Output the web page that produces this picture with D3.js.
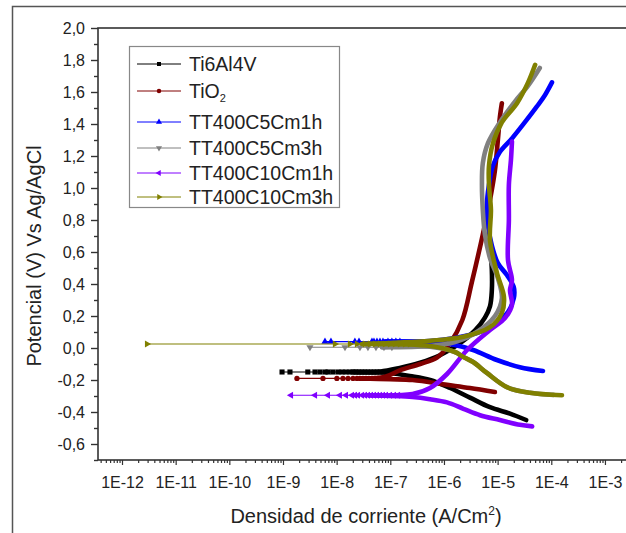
<!DOCTYPE html>
<html>
<head>
<meta charset="utf-8">
<script src="https://cdn.jsdelivr.net/npm/d3@7"></script>
<style>
  body { margin: 0; background: #fff; }
  svg { display: block; }
  text { font-family: "Liberation Sans", Arial, Helvetica, sans-serif; fill: #222; }
</style>
</head>
<body>
<svg id="chart" width="626" height="533"></svg>
<script>
// Potentiodynamic polarization curves: [current density (A/cm2), potential (V vs Ag/AgCl)]
// Each branch starts at the corrosion potential and runs outward.

const seriesNames = ["Ti6Al4V", "TiO2", "TT400C5Cm1h", "TT400C5Cm3h", "TT400C10Cm1h", "TT400C10Cm3h"];
const seriesColors = ["#000000", "#800000", "#0000ff", "#808080", "#8000ff", "#808000"];

// Ti6Al4V
const ti64Cath = [[2.0e-8,-0.150],[6.4e-8,-0.152],[9.9e-8,-0.156],[2.3e-7,-0.175],[5.5e-7,-0.200],[1.3e-6,-0.250],[3.05e-6,-0.310],[7.2e-6,-0.370],[1.7e-5,-0.410],[3.4e-5,-0.450]];
const ti64Anod = [[2.0e-8,-0.150],[6.4e-8,-0.148],[1.5e-7,-0.125],[3.6e-7,-0.092],[8.4e-7,-0.045],[2.0e-6,0.030],[3.8e-6,0.110],[5.8e-6,0.190],[7.2e-6,0.260],[7.8e-6,0.360],[7.8e-6,0.490],[7.5e-6,0.580]];
const ti64EcorrI = [9.6e-10,1.35e-9,2.9e-9,3.95e-9,4.9e-9,6.1e-9,6.9e-9,8.5e-9,1.06e-8,1.26e-8,1.49e-8,1.77e-8,2.02e-8,2.29e-8,2.61e-8,2.97e-8,3.37e-8,3.83e-8,4.36e-8,4.96e-8,5.64e-8,6.42e-8];
const ti64Ecorr = -0.150;

// TiO2
const tio2Cath = [[3.0e-8,-0.190],[9.9e-8,-0.195],[2.6e-7,-0.200],[1.14e-6,-0.230],[3.05e-6,-0.250],[8.9e-6,-0.275]];
const tio2Anod = [[3.0e-8,-0.190],[8.0e-8,-0.180],[1.5e-7,-0.140],[3.6e-7,-0.100],[7.4e-7,-0.060],[1.3e-6,0.030],[2.2e-6,0.175],[3.3e-6,0.410],[5.3e-6,0.710],[7.2e-6,0.925],[8.9e-6,1.110],[1.01e-5,1.300],[1.1e-5,1.440],[1.2e-5,1.530]];
const tio2EcorrI = [1.82e-9,5.56e-9,1.01e-8,1.31e-8,1.63e-8,2.02e-8,2.39e-8,2.72e-8,3.09e-8,3.52e-8,4.0e-8,4.55e-8,5.18e-8,5.89e-8,6.7e-8,7.62e-8];
const tio2Ecorr = -0.190;

// TT400C5Cm1h
const c5h1Cath = [[8.0e-8,0.040],[5.5e-7,0.0375],[1.6e-6,0.019],[3.5e-6,-0.0125],[9.7e-6,-0.075],[2.6e-5,-0.120],[7.0e-5,-0.144]];
const c5h1Anod = [[8.0e-8,0.040],[5.5e-7,0.044],[1.6e-6,0.0625],[4.1e-6,0.094],[9.7e-6,0.156],[1.56e-5,0.225],[2.0e-5,0.310],[2.0e-5,0.380],[1.49e-5,0.456],[1.01e-5,0.530],[7.8e-6,0.640],[6.6e-6,0.770],[6.3e-6,0.890],[6.9e-6,1.020],[8.2e-6,1.140],[1.1e-5,1.225],[1.85e-5,1.310],[3.2e-5,1.410],[5.4e-5,1.510],[7.6e-5,1.580],[1.03e-4,1.660]];
const c5h1EcorrI = [6.06e-9,7.83e-9,2.19e-8,2.61e-8,4.55e-8,4.96e-8,5.64e-8,6.42e-8,7.3e-8,9.04e-8,1.07e-7,1.27e-7,1.51e-7];
const c5h1Ecorr = 0.040;

// TT400C5Cm3h
const c5h3Cath = [[7.0e-8,0.005],[5.5e-7,0.008],[1.6e-6,-0.025],[2.3e-6,-0.056],[3.5e-6,-0.0875],[6.3e-6,-0.156],[1.49e-5,-0.245],[4.0e-5,-0.280],[1.1e-4,-0.293]];
const c5h3Anod = [[7.0e-8,0.005],[5.5e-7,0.0125],[1.6e-6,0.0375],[4.1e-6,0.100],[8.9e-6,0.200],[1.2e-5,0.310],[1.01e-5,0.4375],[7.2e-6,0.5625],[5.8e-6,0.710],[5.3e-6,0.8625],[5.1e-6,1.020],[5.3e-6,1.156],[6.6e-6,1.280],[1.1e-5,1.410],[2.1e-5,1.540],[3.7e-5,1.640],[6.1e-5,1.750]];
const c5h3EcorrI = [3.18e-9,1.43e-8,2.72e-8,3.83e-8,5.4e-8,7.62e-8,1.07e-7];
const c5h3Ecorr = 0.005;

// TT400C10Cm1h
const c10h1Cath = [[4.0e-8,-0.295],[2.6e-7,-0.306],[5.5e-7,-0.320],[1.14e-6,-0.340],[2.3e-6,-0.380],[4.7e-6,-0.420],[1.1e-5,-0.450],[2.6e-5,-0.480],[4.4e-5,-0.490]];
const c10h1Anod = [[4.0e-8,-0.295],[2.6e-7,-0.2875],[5.5e-7,-0.250],[1.14e-6,-0.1625],[2.7e-6,-0.0125],[7.2e-6,0.1125],[1.37e-5,0.1875],[1.85e-5,0.270],[1.7e-5,0.360],[1.85e-5,0.425],[1.56e-5,0.550],[1.62e-5,0.800],[1.62e-5,1.020],[1.77e-5,1.175],[1.85e-5,1.290]];
const c10h1EcorrI = [1.41e-9,3.95e-9,6.89e-9,1.15e-8,1.49e-8,1.93e-8,2.19e-8,2.5e-8,2.97e-8,3.37e-8,3.83e-8,4.36e-8,4.96e-8,5.64e-8,6.42e-8,7.3e-8,8.3e-8,9.86e-8,1.17e-7,1.39e-7];
const c10h1Ecorr = -0.295;

// TT400C10Cm3h
const c10h3Cath = [[3.0e-8,0.025],[5.5e-7,0.0125],[1.6e-6,-0.025],[2.3e-6,-0.056],[3.5e-6,-0.0875],[6.3e-6,-0.156],[1.49e-5,-0.245],[4.0e-5,-0.280],[1.58e-4,-0.295]];
const c10h3Anod = [[3.0e-8,0.025],[5.5e-7,0.045],[2.3e-6,0.070],[7.2e-6,0.130],[1.2e-5,0.220],[1.31e-5,0.320],[9.7e-6,0.470],[7.2e-6,0.675],[7.5e-6,0.8625],[6.9e-6,1.020],[6.9e-6,1.140],[8.2e-6,1.280],[1.2e-5,1.410],[2.3e-5,1.530],[3.7e-5,1.660],[5.0e-5,1.770]];
const c10h3EcorrI = [2.92e-12,9.3e-9,1.77e-8,2.39e-8,3.37e-8,4.18e-8,5.18e-8,6.42e-8,7.95e-8,9.86e-8,1.22e-7,1.51e-7,1.88e-7,2.32e-7];
const c10h3Ecorr = 0.025;

// Axis ticks
const xMajorTicks = [1e-12,1e-11,1e-10,1e-9,1e-8,1e-7,1e-6,1e-5,1e-4,1e-3];
const xTickLabels = ["1E-12","1E-11","1E-10","1E-9","1E-8","1E-7","1E-6","1E-5","1E-4","1E-3"];
const yMajorTicks = [-0.6,-0.4,-0.2,0.0,0.2,0.4,0.6,0.8,1.0,1.2,1.4,1.6,1.8,2.0];
const yTickLabels = ["-0,6","-0,4","-0,2","0,0","0,2","0,4","0,6","0,8","1,0","1,2","1,4","1,6","1,8","2,0"];
const yMinorTicks = [-0.7,-0.5,-0.3,-0.1,0.1,0.3,0.5,0.7,0.9,1.1,1.3,1.5,1.7,1.9];

const series = [
  { cath: ti64Cath,  anod: ti64Anod,  ecorrI: ti64EcorrI,  ecorr: ti64Ecorr },
  { cath: tio2Cath,  anod: tio2Anod,  ecorrI: tio2EcorrI,  ecorr: tio2Ecorr },
  { cath: c5h1Cath,  anod: c5h1Anod,  ecorrI: c5h1EcorrI,  ecorr: c5h1Ecorr },
  { cath: c5h3Cath,  anod: c5h3Anod,  ecorrI: c5h3EcorrI,  ecorr: c5h3Ecorr },
  { cath: c10h1Cath, anod: c10h1Anod, ecorrI: c10h1EcorrI, ecorr: c10h1Ecorr },
  { cath: c10h3Cath, anod: c10h3Anod, ecorrI: c10h3EcorrI, ecorr: c10h3Ecorr }
].map((s, k) => ({ ...s, name: seriesNames[k], color: seriesColors[k] }));

// Marker shapes: square, circle, up, down, left, right triangles
const symbolTypes = [d3.symbolSquare, d3.symbolCircle, d3.symbolTriangle, d3.symbolTriangle, d3.symbolTriangle, d3.symbolTriangle];
const symbolRotation = [0, 0, 0, 180, -90, 90];
const symbolSizes = [26, 22, 22, 22, 22, 22];

const svg = d3.select("#chart");
const plot = { left: 98, top: 28, right: 640, bottom: 460 };

const x = d3.scaleLog().domain([3.57e-13, 4.5e-3]).range([plot.left, plot.right]);
const y = d3.scaleLinear().domain([-0.7, 2.0]).range([plot.bottom, plot.top]);

// Outer frame
svg.append("rect")
  .attr("x", 12.5).attr("y", 6.5).attr("width", 640).attr("height", 560)
  .attr("fill", "none").attr("stroke", "#555").attr("stroke-width", 1.5);

// Plot box
svg.append("rect")
  .attr("x", plot.left).attr("y", plot.top)
  .attr("width", plot.right - plot.left).attr("height", plot.bottom - plot.top)
  .attr("fill", "none").attr("stroke", "#333").attr("stroke-width", 1.6);

svg.append("defs").append("clipPath").attr("id", "plotClip")
  .append("rect").attr("x", plot.left).attr("y", plot.top)
  .attr("width", plot.right - plot.left).attr("height", plot.bottom - plot.top);

// X axis: decade majors with labels, 2..9 minors
const xMinorTicks = [];
for (let e = -13; e <= -3; e++) {
  for (let m = 2; m <= 9; m++) {
    const v = m * Math.pow(10, e);
    if (v > x.domain()[0] && v < x.domain()[1]) xMinorTicks.push(v);
  }
}

const xAxisMinor = svg.append("g").attr("transform", `translate(0,${plot.bottom})`)
  .call(d3.axisBottom(x).tickValues(xMinorTicks).tickSize(3).tickFormat(""));
const xAxisMajor = svg.append("g").attr("transform", `translate(0,${plot.bottom})`)
  .call(d3.axisBottom(x).tickValues(xMajorTicks).tickSize(5).tickPadding(12)
    .tickFormat((d, i) => xTickLabels[i]));

[xAxisMinor, xAxisMajor].forEach(g => {
  g.select(".domain").remove();
  g.selectAll(".tick line").attr("stroke", "#333").attr("stroke-width", 1.2);
});
xAxisMajor.selectAll(".tick text")
  .attr("font-size", 16).attr("fill", "#222")
  .style("font-family", '"Liberation Sans", Arial, sans-serif');

// Y axis
const yAxisMinor = svg.append("g").attr("transform", `translate(${plot.left},0)`)
  .call(d3.axisLeft(y).tickValues(yMinorTicks).tickSize(4).tickFormat(""));
const yAxisMajor = svg.append("g").attr("transform", `translate(${plot.left},0)`)
  .call(d3.axisLeft(y).tickValues(yMajorTicks).tickSize(7).tickPadding(6)
    .tickFormat((d, i) => yTickLabels[i]));

[yAxisMinor, yAxisMajor].forEach(g => {
  g.select(".domain").remove();
  g.selectAll(".tick line").attr("stroke", "#333").attr("stroke-width", 1.4);
});
yAxisMajor.selectAll(".tick text")
  .attr("font-size", 16).attr("fill", "#222")
  .style("font-family", '"Liberation Sans", Arial, sans-serif');

// Axis titles
svg.append("text")
  .attr("transform", "translate(34,256) rotate(-90)")
  .attr("text-anchor", "middle").attr("dominant-baseline", "central")
  .attr("font-size", 20)
  .text("Potencial (V) Vs Ag/AgCl");

const xTitle = svg.append("text")
  .attr("x", 366).attr("y", 523)
  .attr("text-anchor", "middle").attr("font-size", 20);
xTitle.append("tspan").text("Densidad de corriente (A/Cm");
xTitle.append("tspan").attr("font-size", 12).attr("dy", -8).text("2");
xTitle.append("tspan").attr("dy", 8).text(")");

// Curves
const dataLayer = svg.append("g").attr("clip-path", "url(#plotClip)");
const branchLine = d3.line()
  .x(d => x(d[0])).y(d => y(d[1]))
  .curve(d3.curveCatmullRom.alpha(0.5));

series.forEach((s, k) => {
  const g = dataLayer.append("g");
  const sparse = s.ecorrI.map(i => [i, s.ecorr]);

  // thin connecting line through the sparse points near E_corr
  g.append("path")
    .attr("d", d3.line().x(d => x(d[0])).y(d => y(d[1]))([...sparse, s.cath[0]]))
    .attr("fill", "none").attr("stroke", s.color).attr("stroke-width", 1.1);

  // dense branches drawn as heavy lines
  [s.cath, s.anod].forEach(branch => {
    g.append("path")
      .attr("d", branchLine(branch))
      .attr("fill", "none").attr("stroke", s.color)
      .attr("stroke-width", 4.6)
      .attr("stroke-linecap", "round").attr("stroke-linejoin", "round");
  });

  // symbols at the sparse points
  const sym = d3.symbol().type(symbolTypes[k]).size(symbolSizes[k]);
  g.selectAll("path.pt").data(sparse).join("path")
    .attr("class", "pt")
    .attr("d", sym)
    .attr("transform", d => `translate(${x(d[0])},${y(d[1])}) rotate(${symbolRotation[k]})`)
    .attr("fill", s.color);
});

// Legend
const legend = svg.append("g");
legend.append("rect")
  .attr("x", 129.5).attr("y", 46.5).attr("width", 210).attr("height", 161)
  .attr("fill", "#fff").attr("stroke", "#888").attr("stroke-width", 1.2);

const legendY = [64, 91, 122, 148, 173, 197];
series.forEach((s, k) => {
  const ly = legendY[k];
  legend.append("line")
    .attr("x1", 137).attr("x2", 181).attr("y1", ly).attr("y2", ly)
    .attr("stroke", s.color).attr("stroke-width", 1);
  legend.append("path")
    .attr("d", d3.symbol().type(symbolTypes[k]).size(16)())
    .attr("transform", `translate(159,${ly}) rotate(${symbolRotation[k]})`)
    .attr("fill", s.color);
  const t = legend.append("text")
    .attr("x", 189).attr("y", ly).attr("dominant-baseline", "central")
    .attr("font-size", 19.5);
  if (s.name === "TiO2") {
    t.append("tspan").text("TiO");
    t.append("tspan").attr("font-size", 11).attr("dy", 7).text("2");
  } else {
    t.text(s.name);
  }
});
</script>
</body>
</html>
